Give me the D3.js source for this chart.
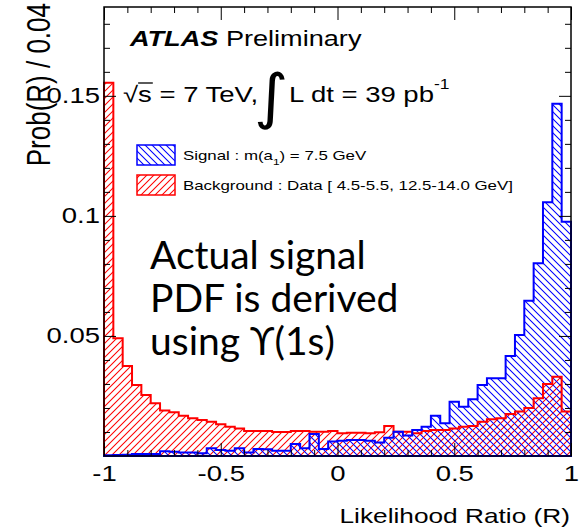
<!DOCTYPE html>
<html><head><meta charset="utf-8">
<script src="https://cdn.jsdelivr.net/npm/d3@7"></script>
<style>body{margin:0;background:#fff}svg{display:block}</style>
</head><body>
<svg id="c" width="579" height="531"></svg>
<script>
// ---- data ----
const xDomain = [-1, 1];
const binWidth = 0.04;
const yDomain = [0, 0.187];
const signal = [0.0003,0.0004,0.0005,0.0008,0.0008,0.0008,0.0020,0.0018,0.0015,0.0015,
                0.0011,0.0032,0.0025,0.0022,0.0032,0.0015,0.0029,0.0028,0.0022,0.0022,
                0.0050,0.0032,0.0092,0.0029,0.0060,0.0063,0.0067,0.0067,0.0063,0.0056,
                0.0076,0.0101,0.0085,0.0108,0.0122,0.0168,0.0136,0.0226,0.0205,0.0236,
                0.0296,0.0324,0.0324,0.0417,0.0504,0.0647,0.0803,0.1057,0.1467,0.0976];
const background = [0.1554,0.0490,0.0375,0.0296,0.0254,0.0220,0.0189,0.0182,0.0168,0.0157,
                    0.0150,0.0143,0.0132,0.0122,0.0115,0.0104,0.0104,0.0104,0.0100,0.0100,
                    0.0104,0.0104,0.0101,0.0101,0.0104,0.0095,0.0097,0.0097,0.0095,0.0099,
                    0.0125,0.0101,0.0101,0.0095,0.0104,0.0108,0.0108,0.0115,0.0122,0.0125,
                    0.0143,0.0153,0.0157,0.0175,0.0185,0.0200,0.0240,0.0300,0.0330,0.0185];
const xMajorTicks = [-1, -0.5, 0, 0.5, 1];
const xTickLabels = ["-1", "-0.5", "0", "0.5", "1"];
const xMinorTicks = [-0.9,-0.8,-0.7,-0.6,-0.4,-0.3,-0.2,-0.1,0.1,0.2,0.3,0.4,0.6,0.7,0.8,0.9];
const yMajorTicks = [0.05, 0.1, 0.15];
const yTickLabels = ["0.05", "0.1", "0.15"];
const yMinorTicks = [0.01,0.02,0.03,0.04,0.06,0.07,0.08,0.09,0.11,0.12,0.13,0.14,0.16,0.17,0.18];
const legendLabels = ["Signal : m(a", "Background : Data [ 4.5-5.5, 12.5-14.0 GeV]"];

// ---- setup ----
const S = 1.25; // horizontal stretch of the original picture
const FONT = "'Liberation Sans', Arial, Helvetica, sans-serif";
const svg = d3.select("#c");
const L = 104, R = 571, T = 7, B = 456;
const x = d3.scaleLinear().domain(xDomain).range([L, R]);
const y = d3.scaleLinear().domain(yDomain).range([B, T]);
const nBins = signal.length;
const edges = d3.range(nBins + 1).map(i => xDomain[0] + i * binWidth);

const defs = svg.append("defs");
function hatch(id, color, dir) {
  const s = 7;
  const p = defs.append("pattern").attr("id", id).attr("patternUnits", "userSpaceOnUse")
    .attr("width", s).attr("height", s);
  const d = dir === "/" ? `M-1,1L1,-1M0,${s}L${s},0M${s-1},${s+1}L${s+1},${s-1}`
                        : `M-1,${s-1}L1,${s+1}M0,0L${s},${s}M${s-1},-1L${s+1},1`;
  p.append("path").attr("d", d).style("stroke", color).style("stroke-width", 1.05).style("fill", "none");
}
hatch("hRed", "rgb(255,0,0)", "/");
hatch("hBlue", "rgb(0,0,255)", "\\");

function histPath(vals) {
  const p = d3.path();
  p.moveTo(x(edges[0]), y(0));
  vals.forEach((v, i) => { p.lineTo(x(edges[i]), y(v)); p.lineTo(x(edges[i + 1]), y(v)); });
  p.lineTo(x(edges[nBins]), y(0));
  p.closePath();
  return p.toString();
}

svg.append("path").attr("d", histPath(background)).attr("fill", "url(#hRed)");
svg.append("path").attr("d", histPath(signal)).attr("fill", "url(#hBlue)");
svg.append("path").attr("d", histPath(background)).attr("fill", "none").attr("stroke", "#ff0000").attr("stroke-width", 2);
svg.append("path").attr("d", histPath(signal)).attr("fill", "none").attr("stroke", "#0000ff").attr("stroke-width", 2);

// ---- axes ----
function styleAxis(g) {
  g.select(".domain").remove();
  g.selectAll(".tick line").attr("stroke", "#000").attr("stroke-width", 1);
  g.attr("font-family", FONT).attr("font-size", 22);
  g.selectAll("text").attr("fill", "#000");
}
// bottom
svg.append("g").attr("transform", `translate(0,${B})`)
  .call(d3.axisBottom(x).tickValues(xMinorTicks).tickSize(-6).tickFormat("")).call(styleAxis);
const xb = svg.append("g").attr("transform", `translate(0,${B})`)
  .call(d3.axisBottom(x).tickValues(xMajorTicks).tickSize(-13).tickPadding(9)
    .tickFormat((d, i) => xTickLabels[i])).call(styleAxis);
xb.selectAll("text").attr("transform", `scale(${S},1)`);
// top
svg.append("g").attr("transform", `translate(0,${T})`)
  .call(d3.axisTop(x).tickValues(xMinorTicks).tickSize(-6).tickFormat("")).call(styleAxis);
svg.append("g").attr("transform", `translate(0,${T})`)
  .call(d3.axisTop(x).tickValues(xMajorTicks).tickSize(-13).tickFormat("")).call(styleAxis);
// left
svg.append("g").attr("transform", `translate(${L},0)`)
  .call(d3.axisLeft(y).tickValues(yMinorTicks).tickSize(-6).tickFormat("")).call(styleAxis);
const yl = svg.append("g").attr("transform", `translate(${L},0)`)
  .call(d3.axisLeft(y).tickValues(yMajorTicks).tickSize(-12).tickPadding(4)
    .tickFormat((d, i) => yTickLabels[i])).call(styleAxis);
yl.selectAll("text").attr("x", -4 / S).attr("transform", `scale(${S},1)`);
// right
svg.append("g").attr("transform", `translate(${R},0)`)
  .call(d3.axisRight(y).tickValues(yMinorTicks).tickSize(-6).tickFormat("")).call(styleAxis);
svg.append("g").attr("transform", `translate(${R},0)`)
  .call(d3.axisRight(y).tickValues(yMajorTicks).tickSize(-12).tickFormat("")).call(styleAxis);

// frame
svg.append("rect").attr("x", L).attr("y", T).attr("width", R - L).attr("height", B - T)
  .attr("fill", "none").attr("stroke", "#000").attr("stroke-width", 1.5);

// ---- texts ----
function stretched(xp, yp, size, anchor) {
  return svg.append("text").attr("transform", `translate(${xp},${yp}) scale(${S},1)`)
    .attr("font-family", FONT).attr("font-size", size).attr("text-anchor", anchor || "start").attr("fill", "#000");
}
// axis titles
stretched(570, 523, 21, "end").text("Likelihood Ratio (R)");
svg.append("text").attr("transform", `translate(50,3) scale(${S},1) rotate(-90)`)
  .attr("font-family", FONT).attr("font-size", 26).attr("text-anchor", "end").text("Prob(R) / 0.04");

// ATLAS label
const at = stretched(130, 46, 21.7);
at.append("tspan").attr("font-weight", "bold").attr("font-style", "italic").text("ATLAS");
at.append("tspan").text(" Preliminary");

// energy / lumi line
const FS2 = 22;
stretched(123, 102, FS2).text("√s = 7 TeV,");
svg.append("line").attr("x1", 123 + 0.55 * FS2 * S).attr("x2", 123 + (0.584 + 0.5) * FS2 * S)
  .attr("y1", 83).attr("y2", 83).attr("stroke", "#000").attr("stroke-width", 1.3);
svg.append("text").attr("transform", `translate(254,117) scale(1.1,1)`)
  .attr("font-family", "'DejaVu Sans', sans-serif").attr("font-size", 60).attr("fill", "#000").text("∫");
const lu = stretched(289, 102, FS2);
lu.append("tspan").text("L dt = 39 pb");
lu.append("tspan").attr("font-size", 14).attr("dy", -13).text("-1");

// legend
const legItems = [{fill: "url(#hBlue)", stroke: "#0000ff", yy: 145},
                  {fill: "url(#hRed)", stroke: "#ff0000", yy: 175}];
legItems.forEach((d, i) => {
  svg.append("rect").attr("x", 137).attr("y", d.yy).attr("width", 38).attr("height", 20)
    .attr("fill", d.fill).attr("stroke", d.stroke).attr("stroke-width", 1.5);
});
const l1 = stretched(183, 159.5, 13.5);
l1.append("tspan").text(legendLabels[0]);
l1.append("tspan").attr("font-size", 9.5).attr("dy", 5).text("1");
l1.append("tspan").attr("dy", -5).text(") = 7.5 GeV");
stretched(183, 189.5, 13.5).text(legendLabels[1]);

// annotation
const ann = ["Actual signal", "PDF is derived", "using ϒ(1s)"];
const annBase = [269, 312, 355];
ann.forEach((t, i) => {
  svg.append("text").attr("x", 150).attr("y", annBase[i]).attr("font-family", "Lato, 'Open Sans', sans-serif")
    .attr("font-size", 39).attr("fill", "#000").text(t);
});
</script>
</body></html>
